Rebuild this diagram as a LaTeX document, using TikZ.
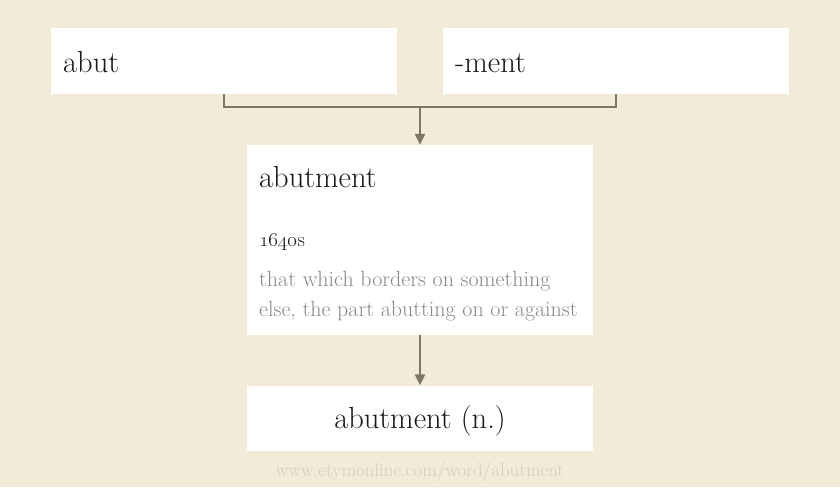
\documentclass[tikz,border=0pt]{standalone}
\usetikzlibrary{arrows.meta}
\definecolor{paper}{HTML}{F2EBDA}
\definecolor{linkcol}{HTML}{7D7866}
\definecolor{gloss}{HTML}{888888}
\definecolor{ink}{HTML}{1A1A1A}
\definecolor{stamp}{HTML}{D6CEBC}
\tikzstyle{box}=[fill=white, inner sep=0pt, minimum width=346pt]
\tikzstyle{word}=[ink, inner sep=0pt, font=\fontsize{30.5}{36}\selectfont]
\tikzstyle{link}=[linkcol, line width=2.7pt]

\begin{document}
\begin{tikzpicture}[x=1pt, y=-1pt]
    \useasboundingbox (0,0) rectangle (840,487);
    \fill[paper] (0,0) rectangle (840,487);
% Boxes
    \node[box, minimum height=66pt] (abut) at (224,61) {};
    \node[box, minimum height=66pt] (ment) at (616,61) {};
    \node[box, minimum height=190pt] (root) at (420,240) {};
    \node[box, minimum height=65pt] (noun) at (420,418) {};
% Words
    \node[word, anchor=base west] (abut text) at (63,72) {abut};
    \node[word, anchor=base west] (ment text) at (455,72) {-ment};
    \node[word, anchor=base west] (root text) at (259,187) {abutment};
    \node[ink, inner sep=0pt, anchor=base west, font=\fontsize{20.5}{24}\selectfont] (date) at (259,246) {\oldstylenums{1640}s};
    \node[gloss, inner sep=0pt, anchor=base west, font=\fontsize{22}{30}\selectfont] (gloss one) at (259,286) {that which borders on something};
    \node[gloss, inner sep=0pt, anchor=base west, font=\fontsize{22}{30}\selectfont] (gloss two) at (259,316) {else, the part abutting on or against};
    \node[word, anchor=base] (noun text) at (420,428) {abutment (n.)};
% Footer
    \node[stamp, inner sep=0pt, anchor=base, font=\fontsize{18.9}{22}\selectfont] (site) at (420,476) {www.etymonline.com/word/abutment};
% Connectors
    \coordinate (join) at (420,107);
    \draw[link] (abut.south) |- (join) -| (ment.south);
    \draw[link, -{Triangle[width=10pt,length=11pt]}] (join) -- (root.north);
    \draw[link, -{Triangle[width=10pt,length=11pt]}] (root.south) -- (noun.north);
\end{tikzpicture}
\end{document}
